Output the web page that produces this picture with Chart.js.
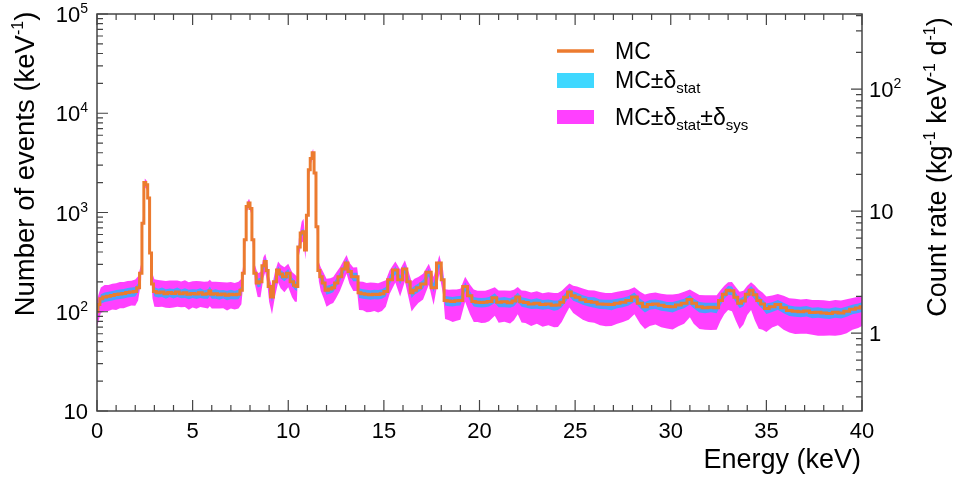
<!DOCTYPE html>
<html>
<head>
<meta charset="utf-8">
<script src="https://cdn.jsdelivr.net/npm/chart.js@4.4.1/dist/chart.umd.min.js"></script>
<style>
  html, body { margin: 0; padding: 0; background: #fff; }
  #wrap { width: 953px; height: 479px; }
</style>
</head>
<body>
<div id="wrap"><canvas id="chart" width="953" height="479"></canvas></div>
<script>
// energy bin centres (keV) and MC spectrum (events / keV)
const energy = [
  0, 0.1, 0.2, 0.4, 0.6, 0.8, 1.0, 1.2, 1.4, 1.6, 1.8, 2.0, 2.15,
  2.3, 2.4, 2.5, 2.6, 2.7, 2.8, 2.9,
  3.0, 3.2, 3.4, 3.6, 3.8, 4.0, 4.2, 4.4, 4.6, 4.8, 5.0, 5.2, 5.4, 5.6, 5.8, 5.9, 6.0, 6.2, 6.4, 6.6, 6.8, 7.0, 7.2, 7.4,
  7.55, 7.65, 7.75, 7.85, 7.95, 8.05, 8.15, 8.25,
  8.4, 8.55, 8.7, 8.8, 8.9, 9.0, 9.15, 9.3, 9.47, 9.6, 9.8, 10.0, 10.2, 10.35, 10.45,
  10.55, 10.7, 10.8, 10.9, 11.0, 11.1, 11.2, 11.3, 11.4, 11.5, 11.6,
  11.7, 11.85, 12.0, 12.2, 12.35, 12.5, 12.7, 12.9, 13.05, 13.2, 13.4, 13.6,
  13.7, 13.9, 14.1, 14.3, 14.5, 14.7, 14.9, 15.1,
  15.3, 15.6, 15.85, 16.1, 16.3, 16.45, 16.6, 16.8, 17.05, 17.35, 17.6, 17.9, 18.1,
  18.2, 18.4, 18.6, 18.8, 19.0, 19.25, 19.5, 19.7, 19.9, 20.1,
  20.3, 20.5, 20.8, 21.0, 21.3, 21.6, 21.8, 22.0, 22.2, 22.4,
  22.7, 23.0, 23.3, 23.6, 23.9, 24.1, 24.3, 24.5, 24.7, 24.9,
  25.1, 25.4, 25.7, 26.0, 26.3, 26.6, 26.9, 27.2, 27.5, 27.8,
  28.1, 28.4, 28.65, 28.9, 29.2, 29.5, 29.8, 30.1, 30.4, 30.7,
  31.0, 31.2, 31.5, 31.8, 32.1, 32.4, 32.6, 32.8, 33.0, 33.2,
  33.4, 33.6, 33.8, 34.0, 34.2, 34.4, 34.6, 34.8, 35.0, 35.3,
  35.6, 35.9, 36.2, 36.5, 36.8, 37.1, 37.4, 37.7, 38.0, 38.3,
  38.6, 38.9, 39.2, 39.5, 39.8, 40.0
];
const mcCounts = [
  100, 118, 135, 141, 143, 146, 149, 151, 153, 156, 158, 160, 175,
  245, 780, 2000, 1900, 1400, 390, 190,
  160, 155, 158, 152, 156, 153, 158, 152, 155, 150, 153, 151, 155, 150, 152, 162, 150, 152, 148, 151, 147, 150, 148, 150,
  165, 245, 530, 1150, 1250, 1100, 530, 245,
  195, 200, 290, 320, 260, 180, 141, 200, 263, 240, 225, 245, 200, 185, 180,
  450, 620, 640, 420, 940, 2700, 3500, 4000, 2500, 720, 260,
  225, 195, 165, 170, 175, 195, 225, 270, 310, 255, 225, 225,
  155, 152, 150, 148, 150, 149, 152, 160,
  210, 263, 210, 270, 200, 155, 165, 175, 190, 250, 175, 310, 210,
  130, 128, 127, 129, 130, 180, 145, 127, 125, 124,
  125, 127, 138, 125, 126, 123, 128, 141, 126, 124,
  120, 122, 118, 120, 116, 117, 125, 140, 158, 145,
  140, 132, 127, 125, 120, 119, 118, 122, 125, 130,
  141, 122, 112, 118, 120, 116, 113, 112, 117, 122,
  133, 122, 112, 110, 111, 110, 130, 150, 165, 163,
  140, 122, 128, 150, 165, 148, 130, 120, 108, 112,
  118, 110, 103, 101, 100, 102, 98, 99, 97, 96,
  99, 97, 101, 106, 109, 112
];
// relative statistical error
const statErr = [
  .12, .11, .11, .11, .11, .11, .11, .11, .11, .11, .11, .11, .1,
  .08, .05, .04, .04, .04, .07, .1,
  .11, .1, .11, .11, .1, .11, .11, .1, .11, .11, .1, .11, .11, .1, .11, .11, .1, .11, .11, .1, .11, .11, .1, .11,
  .1, .08, .05, .04, .04, .04, .05, .08,
  .1, .1, .09, .09, .09, .1, .11, .1, .09, .1, .1, .1, .1, .1, .1,
  .07, .07, .07, .07, .05, .04, .04, .04, .04, .05, .08,
  .1, .1, .1, .1, .1, .1, .1, .09, .09, .09, .1, .1,
  .11, .11, .11, .11, .11, .11, .11, .11,
  .1, .09, .1, .09, .1, .11, .1, .1, .1, .09, .1, .09, .1,
  .11, .11, .11, .11, .11, .1, .11, .11, .11, .11,
  .11, .11, .11, .11, .12, .11, .11, .11, .11, .11,
  .11, .12, .11, .11, .12, .11, .11, .11, .1, .11,
  .11, .11, .11, .12, .11, .11, .12, .11, .11, .11,
  .11, .11, .12, .11, .11, .12, .11, .12, .11, .11,
  .11, .11, .12, .12, .11, .12, .11, .1, .1, .1,
  .11, .11, .11, .1, .1, .11, .11, .11, .12, .11,
  .11, .12, .12, .12, .12, .12, .12, .12, .12, .12,
  .12, .12, .12, .11, .11, .11
];
// relative systematic+statistical error, upwards and downwards
const sysUp = [
  .32, .3, .3, .32, .3, .31, .3, .32, .3, .31, .3, .32, .3,
  .22, .12, .1, .1, .1, .18, .28,
  .33, .35, .31, .34, .32, .35, .31, .33, .34, .32, .33, .35, .31, .34, .33, .3, .34, .32, .35, .31, .34, .33, .32, .34,
  .3, .22, .15, .1, .1, .1, .15, .22,
  .25, .26, .22, .2, .22, .25, .28, .25, .22, .24, .25, .24, .26, .28, .26,
  .2, .3, .35, .2, .12, .1, .1, .1, .1, .15, .22,
  .25, .27, .3, .28, .28, .27, .25, .22, .2, .22, .24, .25,
  .3, .32, .3, .33, .31, .3, .32, .3,
  .25, .22, .27, .22, .26, .3, .3, .28, .27, .22, .28, .2, .25,
  .3, .3, .32, .3, .31, .25, .3, .32, .3, .31,
  .3, .32, .28, .31, .3, .32, .3, .26, .3, .31,
  .3, .32, .3, .31, .33, .32, .3, .27, .22, .26,
  .28, .3, .3, .31, .32, .3, .31, .3, .3, .28,
  .25, .3, .33, .3, .3, .31, .32, .33, .3, .3,
  .26, .3, .32, .33, .32, .33, .27, .22, .2, .22,
  .27, .3, .27, .22, .2, .24, .28, .3, .32, .3,
  .28, .32, .33, .34, .33, .32, .34, .33, .35, .34,
  .33, .34, .32, .3, .3, .3
];
const sysDown = [
  .3, .3, .28, .28, .29, .28, .3, .28, .29, .28, .27, .28, .26,
  .2, .12, .1, .1, .1, .18, .28,
  .3, .28, .29, .28, .3, .28, .29, .27, .28, .3, .28, .29, .28, .27, .29, .3, .28, .29, .27, .28, .3, .28, .29, .28,
  .28, .22, .15, .1, .1, .1, .15, .22,
  .28, .3, .25, .22, .25, .3, .33, .3, .25, .28, .3, .28, .3, .32, .3,
  .2, .2, .2, .2, .12, .1, .1, .1, .1, .15, .22,
  .28, .3, .32, .3, .3, .3, .28, .25, .22, .25, .28, .28,
  .33, .32, .34, .33, .32, .34, .33, .3,
  .28, .25, .32, .25, .32, .35, .33, .3, .3, .25, .33, .22, .3,
  .35, .36, .38, .37, .36, .3, .35, .38, .37, .38,
  .38, .37, .34, .38, .37, .38, .36, .33, .38, .38,
  .4, .38, .4, .39, .4, .4, .37, .33, .3, .33,
  .35, .37, .38, .38, .39, .4, .39, .38, .37, .36,
  .33, .38, .4, .39, .38, .4, .4, .41, .39, .38,
  .34, .38, .4, .4, .41, .4, .38, .37, .37, .38,
  .42, .45, .42, .38, .37, .45, .48, .45, .42, .38,
  .38, .4, .4, .41, .4, .41, .4, .42, .41, .4,
  .42, .4, .4, .38, .37, .36
];

const xTickStep = 5;
const xMinorStep = 1;
const leftTickValues = [10, 100, 1000, 10000, 100000];
const leftTickLabels = [['10', ''], ['10', '2'], ['10', '3'], ['10', '4'], ['10', '5']];
const rightTickValues = [1, 10, 100];
const rightTickLabels = [['1', ''], ['10', ''], ['10', '2']];
const rightRange = [0.23, 412];

const FONT = "'Liberation Sans', Arial, Helvetica, sans-serif";
const ORANGE = '#ec7b2f';
const CYAN = '#3fd8ff';
const MAGENTA = '#ff40ff';

const pts = vals => energy.map((e, i) => ({ x: e, y: vals[i] }));
const mcPts = pts(mcCounts);
const statHi = pts(mcCounts.map((v, i) => v * (1 + statErr[i])));
const statLo = pts(mcCounts.map((v, i) => v * (1 - statErr[i])));
const sysHi = pts(mcCounts.map((v, i) => v * (1 + sysUp[i])));
const sysLo = pts(mcCounts.map((v, i) => v * (1 - sysDown[i])));

// draw text made of pieces (for super/subscripts)
function richText(ctx, parts, x, y, align) {
    let w = 0;
    parts.forEach(p => { ctx.font = p.s + 'px ' + FONT; w += ctx.measureText(p.t).width; });
    let cx = align === 'right' ? x - w : align === 'center' ? x - w / 2 : x;
    ctx.textAlign = 'left';
    ctx.textBaseline = 'alphabetic';
    parts.forEach(p => {
        ctx.font = p.s + 'px ' + FONT;
        ctx.fillText(p.t, cx, y + (p.dy || 0));
        cx += ctx.measureText(p.t).width;
    });
}

const decorations = {
    id: 'decorations',
    afterDatasetsDraw(chart) {
        const { ctx, chartArea: a, scales: { x, y, y2 } } = chart;
        ctx.save();

        // ticks (inward, ROOT style)
        ctx.strokeStyle = '#444';
        ctx.lineWidth = 1.2;
        ctx.beginPath();
        for (let e = 0; e <= 40; e += xMinorStep) {
            const px = x.getPixelForValue(e);
            const len = e % xTickStep === 0 ? 11 : 6;
            ctx.moveTo(px, a.bottom); ctx.lineTo(px, a.bottom - len);
            ctx.moveTo(px, a.top); ctx.lineTo(px, a.top + len);
        }
        for (let d = 1; d <= 5; d++) {
            for (let m = 1; m <= 9; m++) {
                const v = m * Math.pow(10, d);
                if (v > 100000) break;
                const py = y.getPixelForValue(v);
                const len = m === 1 ? 11 : 6;
                ctx.moveTo(a.left, py); ctx.lineTo(a.left + len, py);
            }
        }
        for (let d = -1; d <= 2; d++) {
            for (let m = 1; m <= 9; m++) {
                const v = m * Math.pow(10, d);
                if (v < rightRange[0] || v > rightRange[1]) continue;
                const py = y2.getPixelForValue(v);
                const len = m === 1 ? 11 : 6;
                ctx.moveTo(a.right, py); ctx.lineTo(a.right - len, py);
            }
        }
        ctx.stroke();

        // frame
        ctx.lineWidth = 1.5;
        ctx.strokeRect(a.left, a.top, a.right - a.left, a.bottom - a.top);

        ctx.fillStyle = '#000';
        // left tick labels
        leftTickValues.forEach((v, i) => {
            const py = y.getPixelForValue(v);
            const [base, exp] = leftTickLabels[i];
            const parts = [{ t: base, s: 22 }];
            if (exp) parts.push({ t: exp, s: 14, dy: -9 });
            richText(ctx, parts, 88, py + 8, 'right');
        });
        // right tick labels
        rightTickValues.forEach((v, i) => {
            const py = y2.getPixelForValue(v);
            const [base, exp] = rightTickLabels[i];
            const parts = [{ t: base, s: 22 }];
            if (exp) parts.push({ t: exp, s: 14, dy: -9 });
            richText(ctx, parts, 869, py + 8, 'left');
        });

        // axis titles
        richText(ctx, [{ t: 'Energy (keV)', s: 27 }], 861, 468, 'right');

        ctx.save();
        ctx.translate(34, 164);
        ctx.rotate(-Math.PI / 2);
        richText(ctx, [{ t: 'Number of events (keV', s: 27.5 }, { t: '-1', s: 16, dy: -11 }, { t: ')', s: 27.5 }], 0, 0, 'center');
        ctx.restore();

        ctx.save();
        ctx.translate(946, 167);
        ctx.rotate(-Math.PI / 2);
        richText(ctx, [
            { t: 'Count rate (kg', s: 27 }, { t: '-1', s: 16, dy: -11 },
            { t: ' keV', s: 27 }, { t: '-1', s: 16, dy: -11 },
            { t: ' d', s: 27 }, { t: '-1', s: 16, dy: -11 }, { t: ')', s: 27 }
        ], 0, 0, 'center');
        ctx.restore();

        // legend
        ctx.strokeStyle = ORANGE;
        ctx.lineWidth = 3.5;
        ctx.beginPath();
        ctx.moveTo(557, 51); ctx.lineTo(594, 51);
        ctx.stroke();
        ctx.fillStyle = CYAN;
        ctx.fillRect(557, 73, 37, 15);
        ctx.fillStyle = MAGENTA;
        ctx.fillRect(557, 110, 37, 14);
        ctx.fillStyle = '#000';
        richText(ctx, [{ t: 'MC', s: 23 }], 615, 59, 'left');
        richText(ctx, [{ t: 'MC\u00b1\u03b4', s: 23 }, { t: 'stat', s: 15, dy: 5 }], 615, 88, 'left');
        richText(ctx, [
            { t: 'MC\u00b1\u03b4', s: 23 }, { t: 'stat', s: 15, dy: 5 },
            { t: '\u00b1\u03b4', s: 23 }, { t: 'sys', s: 15, dy: 5 }
        ], 615, 125, 'left');

        ctx.restore();
    }
};

const line = (data, extra) => Object.assign({
    data,
    pointRadius: 0,
    borderWidth: 0,
    fill: false
}, extra);

new Chart(document.getElementById('chart'), {
    type: 'line',
    data: {
        datasets: [
            line(mcPts, { label: 'MC', borderColor: ORANGE, borderWidth: 3, stepped: 'middle' }),
            line(statHi, { label: 'MC\u00b1\u03b4stat', fill: '+1', backgroundColor: 'rgba(0, 200, 255, 0.7)' }),
            line(statLo, { label: 'statLo' }),
            line(sysHi, { label: 'MC\u00b1\u03b4stat\u00b1\u03b4sys', fill: '+1', backgroundColor: MAGENTA }),
            line(sysLo, { label: 'sysLo' })
        ]
    },
    options: {
        responsive: false,
        animation: false,
        devicePixelRatio: 1,
        layout: { padding: { top: 14, left: 0, right: 0, bottom: 0 } },
        plugins: {
            legend: { display: false },
            tooltip: { enabled: false }
        },
        scales: {
            x: {
                type: 'linear',
                min: 0,
                max: 40,
                grid: { display: false, drawTicks: false },
                border: { display: false },
                ticks: {
                    stepSize: xTickStep,
                    maxRotation: 0,
                    autoSkip: false,
                    padding: 8,
                    color: '#000',
                    font: { family: FONT, size: 22 }
                },
                afterFit: s => { s.height = 68; }
            },
            y: {
                type: 'logarithmic',
                position: 'left',
                min: 10,
                max: 100000,
                grid: { display: false, drawTicks: false },
                border: { display: false },
                ticks: { display: false },
                afterFit: s => { s.width = 97; }
            },
            y2: {
                type: 'logarithmic',
                position: 'right',
                min: rightRange[0],
                max: rightRange[1],
                grid: { display: false, drawTicks: false },
                border: { display: false },
                ticks: { display: false },
                afterFit: s => { s.width = 91; }
            }
        }
    },
    plugins: [decorations]
});
</script>
</body>
</html>
